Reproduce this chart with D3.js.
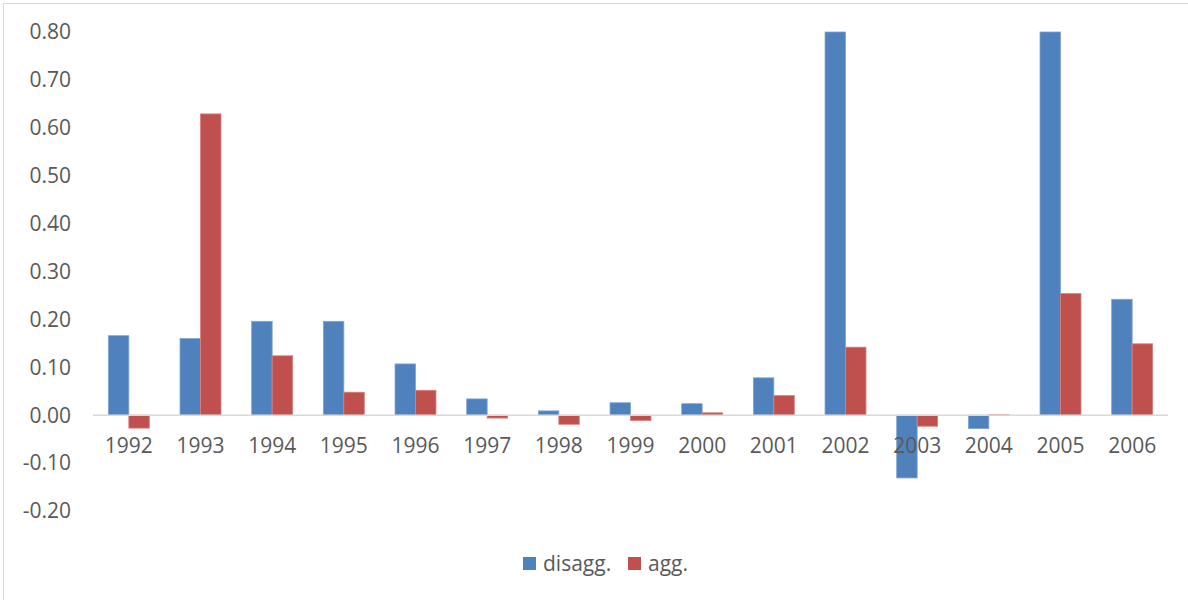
<!DOCTYPE html>
<html>
<head>
<meta charset="utf-8">
<script src="https://cdn.jsdelivr.net/npm/d3@7/dist/d3.min.js"></script>
<style>
  html, body { margin: 0; padding: 0; background: #fff; }
  svg { display: block; }
  text { font-family: "Open Sans", "Noto Sans", sans-serif; fill: #595959; }
</style>
</head>
<body>
<svg id="chart" width="1188" height="600"></svg>
<script>
// Year categories
const years = ["1992","1993","1994","1995","1996","1997","1998","1999","2000","2001","2002","2003","2004","2005","2006"];
// Series values
const disagg = [0.166, 0.160, 0.196, 0.196, 0.107, 0.034, 0.009, 0.026, 0.024, 0.078, 0.80, -0.131, -0.028, 0.80, 0.242];
const agg    = [-0.027, 0.629, 0.124, 0.048, 0.052, -0.006, -0.019, -0.011, 0.005, 0.041, 0.142, -0.023, 0.001, 0.254, 0.149];
// Axis ticks
const yTicks = [-0.2, -0.1, 0, 0.1, 0.2, 0.3, 0.4, 0.5, 0.6, 0.7, 0.8];
const seriesNames = ["disagg.", "agg."];
const colors = ["#4F81BD", "#C0504D"];
const strokes = ["#7FA3D3", "#D7807E"];

const svg = d3.select("#chart");

// Outer frame
svg.append("rect")
  .attr("x", 3.5).attr("y", 3.5)
  .attr("width", 1300).attr("height", 700)
  .attr("fill", "none").attr("stroke", "#d9d9d9").attr("stroke-width", 1);

// Gap between groups is 1.5x a single bar width
const x = d3.scaleBand().domain(years).range([93, 1168]).paddingInner(0.4286).paddingOuter(0.2143);
const y = d3.scaleLinear().domain([-0.2, 0.8]).range([511, 32]);
const xs = d3.scaleBand().domain([0, 1]).range([0, x.bandwidth()]);

// Y tick labels (no axis line, no gridlines)
svg.append("g").selectAll("text")
  .data(yTicks).join("text")
  .attr("x", 71)
  .attr("y", d => y(d))
  .attr("dy", "0.35em")
  .attr("text-anchor", "end")
  .style("font-size", "21px")
  .text(d => d3.format(".2f")(d).replace("\u2212", "-"));

// Bars
const data = years.map((yr, i) => ({ yr, vals: [disagg[i], agg[i]] }));
const groups = svg.append("g").selectAll("g")
  .data(data).join("g")
  .attr("transform", d => `translate(${x(d.yr)},0)`);

groups.selectAll("rect")
  .data(d => d.vals.map((v, k) => ({ v, k })))
  .join("rect")
  .attr("x", d => xs(d.k))
  .attr("width", xs.bandwidth())
  .attr("y", d => y(Math.max(0, d.v)))
  .attr("height", d => Math.abs(y(d.v) - y(0)))
  .attr("fill", d => colors[d.k])
  .attr("stroke", d => strokes[d.k])
  .attr("stroke-width", 0.8);

// Zero baseline
svg.append("line")
  .attr("x1", 93).attr("x2", 1168)
  .attr("y1", y(0)).attr("y2", y(0))
  .attr("stroke", "#d9d9d9").attr("stroke-width", 1.5);

// Category labels
svg.append("g").selectAll("text")
  .data(years).join("text")
  .attr("x", d => x(d) + x.bandwidth() / 2)
  .attr("y", 446)
  .attr("dy", "0.35em")
  .attr("text-anchor", "middle")
  .style("font-size", "21px")
  .text(d => d);

// Legend
const legendX = [523, 628];
const legend = svg.append("g").selectAll("g")
  .data(seriesNames).join("g")
  .attr("transform", (d, i) => `translate(${legendX[i]},557)`);
legend.append("rect")
  .attr("width", 13).attr("height", 13)
  .attr("fill", (d, i) => colors[i]);
legend.append("text")
  .attr("x", 20).attr("y", 7)
  .attr("dy", "0.35em")
  .style("font-size", "21px")
  .text(d => d);
</script>
</body>
</html>
